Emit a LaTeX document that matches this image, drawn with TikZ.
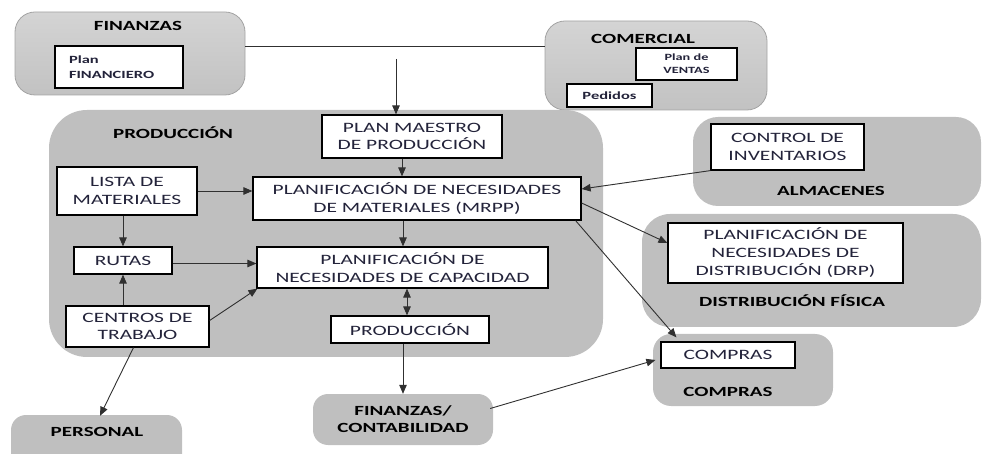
\documentclass[tikz,border=0pt]{standalone}
\usepackage{fontspec}
\setmainfont{Carlito}[FakeStretch=1.5]
\usetikzlibrary{arrows.meta}
\definecolor{grp}{HTML}{BFBFBF}
\definecolor{grptop}{HTML}{D4D4D4}
\definecolor{grpbot}{HTML}{C2C2C2}
\definecolor{grpedge}{HTML}{A3A3A3}
\definecolor{txt}{HTML}{23233A}
\definecolor{ln}{HTML}{303030}
\begin{document}
\begin{tikzpicture}[x=1pt,y=-1pt,
  grpnode/.style={fill=grp, draw=none, inner sep=0pt, align=center,
    font=\bfseries\fontsize{14}{17}\selectfont, text=black},
  grplight/.style={top color=grptop, bottom color=grpbot, draw=grpedge, line width=0.8pt, inner sep=0pt},
  wbox/.style={draw=black, line width=1.2pt, fill=white, inner sep=0pt, align=center,
    text=txt, font=\fontsize{14.3}{17.5}\selectfont},
  sbox/.style={draw=black, line width=1.2pt, fill=white, inner sep=0pt,
    text=txt, font=\bfseries\fontsize{11}{15}\selectfont},
  ttl/.style={inner sep=0pt, align=center, font=\bfseries\fontsize{14}{17}\selectfont, text=black},
  arr/.style={draw=ln, line width=0.9pt, -{Triangle[length=9pt,width=7.5pt]}},
  darr/.style={draw=ln, line width=0.9pt, {Triangle[length=9pt,width=7.5pt]}-{Triangle[length=9pt,width=7.5pt]}},
  ln/.style={draw=ln, line width=0.9pt}
]
\useasboundingbox (0,0) rectangle (983,454);

% ---------- groups ----------
\node[grplight, rounded corners=20, minimum width=230, minimum height=83] (gfin) at (130,53.5) {};
\node[grplight, rounded corners=20, minimum width=222, minimum height=89] (gcom) at (656,65.5) {};
\node[grpnode, rounded corners=38, minimum width=554, minimum height=247] (gprod) at (326,233.5) {};
\node[grpnode, rounded corners=25, minimum width=288, minimum height=89] (galm) at (837,161.5) {};
\node[grpnode, rounded corners=28, minimum width=339, minimum height=113] (gdist) at (811.5,270.5) {};
\node[grpnode, rounded corners=18, minimum width=180, minimum height=72] (gcomp) at (743,370) {};
\node[grpnode, rounded corners=15, minimum width=180, minimum height=51] (gfincont) at (403,419.5) {FINANZAS/\\CONTABILIDAD};
\node[grpnode, rounded corners=15, minimum width=171, minimum height=60] (gpers) at (96.5,445) {};

% ---------- titles ----------
\node[ttl] (tfin) at (138,26) {FINANZAS};
\node[ttl] (tcom) at (643,39) {COMERCIAL};
\node[ttl] (tprod) at (173,133) {PRODUCCIÓN};
\node[ttl] (talm) at (831,191) {ALMACENES};
\node[ttl] (tdist) at (792,301) {DISTRIBUCIÓN FÍSICA};
\node[ttl] (tcomp) at (728,392) {COMPRAS};
\node[ttl] (tpers) at (97,432) {PERSONAL};

% ---------- white boxes ----------
\node[sbox, minimum width=128, minimum height=42, text width=100, align=left] (finplan) at (119,67) {Plan\\FINANCIERO};
\node[sbox, minimum width=101, minimum height=32, align=center, font=\bfseries\fontsize{9.5}{13}\selectfont] (venplan) at (686.5,64) {Plan de\\VENTAS};
\node[sbox, minimum width=85, minimum height=23, align=center] (pedidos) at (609.5,95.5) {Pedidos};

\node[wbox, minimum width=180, minimum height=43] (maestro) at (412,136.5) {PLAN MAESTRO\\DE PRODUCCIÓN};
\node[wbox, minimum width=140, minimum height=48] (lista) at (127,191) {LISTA DE\\MATERIALES};
\node[wbox, minimum width=328, minimum height=43] (mrpp) at (417,198.5) {PLANIFICACIÓN DE NECESIDADES\\DE MATERIALES (MRPP)};
\node[wbox, minimum width=98, minimum height=27] (rutas) at (123,260.5) {RUTAS};
\node[wbox, minimum width=291, minimum height=41] (capac) at (402.5,267.5) {PLANIFICACIÓN DE\\NECESIDADES DE CAPACIDAD};
\node[wbox, minimum width=143, minimum height=41] (centros) at (137.5,326.5) {CENTROS DE\\TRABAJO};
\node[wbox, minimum width=158, minimum height=27] (prod) at (410,329.5) {PRODUCCIÓN};
\node[wbox, minimum width=153, minimum height=46] (control) at (787.5,147) {CONTROL DE\\INVENTARIOS};
\node[wbox, minimum width=235, minimum height=60, font=\fontsize{14.3}{18}\selectfont] (drp) at (785.5,253) {PLANIFICACIÓN DE\\NECESIDADES DE\\DISTRIBUCIÓN (DRP)};
\node[wbox, minimum width=134, minimum height=26] (cbox) at (728,355) {COMPRAS};

% ---------- connectors ----------
\draw[ln] ([yshift=7.5pt]gfin.east) -- ([yshift=19.5pt]gcom.west);
\coordinate (drop) at (396,59);
\draw[arr] (drop) -- (drop |- maestro.north);
\draw[arr] ([xshift=-10pt]maestro.south) -- ([xshift=-10pt]maestro.south |- mrpp.north);
\draw[arr] (lista.east) -- (mrpp.west |- lista.east);
\draw[arr] ([xshift=-14pt]mrpp.south) -- ([xshift=-14pt]mrpp.south |- capac.north);
\draw[arr] (lista.south -| rutas.north) -- (rutas.north);
\draw[arr] ([yshift=-3pt]rutas.east) -- ([yshift=-3pt]capac.west |- rutas.east);
\draw[arr] (rutas.south |- centros.north) -- (rutas.south);
\draw[arr] ([yshift=6pt]centros.east) -- ([xshift=1pt]capac.south west);
\draw[darr] ([xshift=-3pt]prod.north |- capac.south) -- ([xshift=-3pt]prod.north);
\draw[arr] (gfincont.north |- prod.south) -- (gfincont.north);
\draw[arr] ([xshift=-4pt]centros.south) -- ([xshift=3.5pt,yshift=-1pt]gpers.north);
\draw[arr] (control.south west) -- ([yshift=9.5pt]mrpp.east);
\draw[arr] ([yshift=-4.5pt]mrpp.east) -- ([yshift=10pt]drp.west);
\draw[arr] ([xshift=-6pt]mrpp.south east) -- ([xshift=16pt,yshift=4pt]cbox.north west);
\draw[arr] ([xshift=-3pt,yshift=11pt]gfincont.east) -- ([xshift=-5pt,yshift=-5pt]cbox.west);
\end{tikzpicture}
\end{document}
